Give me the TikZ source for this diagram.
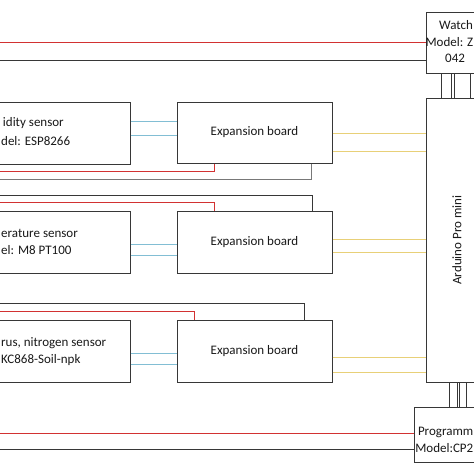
\documentclass[tikz,border=0pt]{standalone}
\usepackage{fontspec}
\setmainfont{Carlito}
\definecolor{wred}{RGB}{210,50,50}
\definecolor{wblue}{RGB}{130,190,212}
\definecolor{wyel}{RGB}{232,208,120}
\definecolor{wbox}{RGB}{55,55,55}
\definecolor{wgray}{RGB}{120,120,120}
\tikzset{
  blk/.style={draw=wbox, line width=1pt, fill=white, inner sep=0pt},
  lbl/.style={inner sep=0pt, font=\fontsize{13}{13}\selectfont, text=black!90},
  redw/.style={draw=wred, line width=1pt},
  darkw/.style={draw=wbox, line width=1pt},
  grayw/.style={draw=wgray, line width=1pt},
  bluew/.style={draw=wblue, line width=1pt},
  yelw/.style={draw=wyel, line width=1pt},
}
\begin{document}
\begin{tikzpicture}[x=1pt,y=-1pt]
\useasboundingbox (0,0) rectangle (474,474);
\clip (0,0) rectangle (474,474);
\coordinate (L) at (-5,0);
% boxes
\node[blk, minimum width=70pt, minimum height=61pt] (wd) at (461,42.5) {};
\node[blk, minimum width=70pt, minimum height=284pt] (ard) at (461,240) {};
\node[blk, minimum width=82pt, minimum height=55pt] (prg) at (455,434.5) {};
\node[blk, minimum width=210pt, minimum height=62pt] (s1) at (25,133) {};
\node[blk, minimum width=210pt, minimum height=62pt] (s2) at (25,242) {};
\node[blk, minimum width=210pt, minimum height=62pt] (s3) at (25,351) {};
\node[blk, minimum width=155pt, minimum height=61pt] (e1) at (254.5,132.5) {};
\node[blk, minimum width=155pt, minimum height=62pt] (e2) at (254.5,242) {};
\node[blk, minimum width=155pt, minimum height=62pt] (e3) at (254.5,351) {};
% texts
\node[lbl] (e1t) at (e1) {Expansion board};
\node[lbl] (e2t) at (e2) {Expansion board};
\node[lbl] (e3t) at (e3) {Expansion board};
\node[lbl, anchor=east] (s1a) at (64,123) {idity sensor};
\node[lbl, anchor=west] (s1b) at (1,141) {del: ESP8266};
\node[lbl, anchor=west] (s2a) at (1,233) {erature sensor};
\node[lbl, anchor=west] (s2b) at (1,250) {el: M8 PT100};
\node[lbl, anchor=west] (s3a) at (1,343) {rus, nitrogen sensor};
\node[lbl, anchor=west] (s3b) at (1,360) {KC868-Soil-npk};
\node[lbl, anchor=west] (wda) at (439,25) {Watch};
\node[lbl, anchor=east] (wdb) at (473.5,42) {Model: Z};
\node[lbl, anchor=west] (wdc) at (445,58) {042};
\node[lbl, anchor=east] (pga) at (473.5,432) {Programm};
\node[lbl, anchor=east] (pgb) at (473.5,448) {Model:CP2};
\node[lbl, rotate=90] (ardt) at (457,240) {Arduino Pro mini};
% top and bottom lines
\draw[redw] (L |- 0,42) -- (wd.west |- 0,42);
\draw[darkw] (L |- 0,60) -- (wd.west |- 0,60);
\draw[redw] (L |- 0,433) -- (prg.west |- 0,433);
\draw[darkw] (L |- 0,449) -- (prg.west |- 0,449);
% watchdog to arduino
\foreach \xx in {441,451,454,470} \draw[darkw] (wd.south -| \xx,0) -- (ard.north -| \xx,0);
\foreach \xx in {449,457,459,466} \draw[darkw] (ard.south -| \xx,0) -- (prg.north -| \xx,0);
% blue lines
\draw[bluew] (s1.east |- 0,121) -- (e1.west |- 0,121);
\draw[bluew] (s1.east |- 0,135) -- (e1.west |- 0,135);
\draw[bluew] (s2.east |- 0,244) -- (e2.west |- 0,244);
\draw[bluew] (s2.east |- 0,255) -- (e2.west |- 0,255);
\draw[bluew] (s3.east |- 0,353) -- (e3.west |- 0,353);
\draw[bluew] (s3.east |- 0,364) -- (e3.west |- 0,364);
% yellow lines
\draw[yelw] (e1.east |- 0,133) -- (ard.west |- 0,133);
\draw[yelw] (e1.east |- 0,151) -- (ard.west |- 0,151);
\draw[yelw] (e2.east |- 0,239) -- (ard.west |- 0,239);
\draw[yelw] (e2.east |- 0,252) -- (ard.west |- 0,252);
\draw[yelw] (e3.east |- 0,357) -- (ard.west |- 0,357);
\draw[yelw] (e3.east |- 0,372) -- (ard.west |- 0,372);
% power lines
\draw[redw] (L |- 0,171) -| (e1.south -| 214,0);
\draw[grayw] (L |- 0,179) -| (e1.south -| 311,0);
\draw[darkw] (L |- 0,195) -| (e2.north -| 312,0);
\draw[redw] (L |- 0,202) -| (e2.north -| 214,0);
\draw[darkw] (L |- 0,303) -| (e3.north -| 304,0);
\draw[redw] (L |- 0,311) -| (e3.north -| 194,0);
\end{tikzpicture}
\end{document}
